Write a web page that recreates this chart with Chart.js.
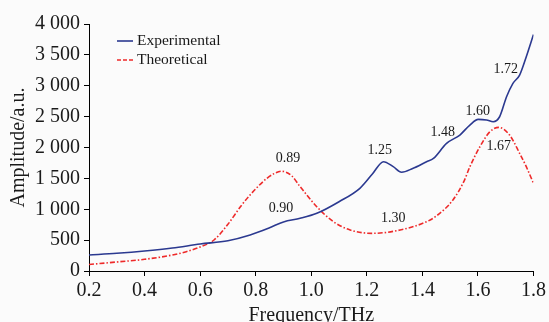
<!DOCTYPE html>
<html>
<head>
<meta charset="utf-8">
<script src="https://cdn.jsdelivr.net/npm/chart.js@4"></script>
<style>
    html, body { margin: 0; padding: 0; background: #fbfbfb; }
    #wrap { width: 549px; height: 322px; }
</style>
</head>
<body>
<div id="wrap"><canvas id="myChart"></canvas></div>
<script>
// frequency (THz) / amplitude (a.u.)
const freqExp = [0.2, 0.3, 0.4, 0.5, 0.6, 0.7, 0.78, 0.85, 0.9, 0.96, 1.02, 1.1, 1.175, 1.22, 1.26, 1.295, 1.325, 1.365, 1.415, 1.44, 1.487, 1.535, 1.571, 1.601, 1.631, 1.655, 1.678, 1.703, 1.726, 1.75, 1.774, 1.8];
const ampExp = [259, 287, 324, 372, 437, 490, 583, 700, 795, 853, 934, 1122, 1339, 1570, 1770, 1690, 1600, 1660, 1770, 1824, 2067, 2202, 2364, 2456, 2445, 2417, 2498, 2822, 3039, 3173, 3470, 3830];

const freqTheo = [0.2, 0.3, 0.4, 0.5, 0.55, 0.6, 0.65, 0.7, 0.75, 0.8, 0.84, 0.87, 0.893, 0.93, 0.96, 1.02, 1.08, 1.14, 1.22, 1.32, 1.415, 1.45, 1.51, 1.55, 1.571, 1.607, 1.643, 1.675, 1.714, 1.75, 1.774, 1.8];
const ampTheo = [105, 146, 189, 259, 313, 389, 502, 756, 1070, 1330, 1500, 1585, 1615, 1540, 1365, 1041, 798, 664, 610, 664, 798, 890, 1150, 1457, 1689, 2012, 2255, 2326, 2202, 1906, 1689, 1420];

const xTickLabels = ['0.2', '0.4', '0.6', '0.8', '1.0', '1.2', '1.4', '1.6', '1.8'];
const yTickLabels = ['0', '500', '1 000', '1 500', '2 000', '2 500', '3 000', '3 500', '4 000'];

// peak labels, placed in data units
const peakText = ['0.89', '0.90', '1.25', '1.30', '1.48', '1.60', '1.67', '1.72'];
const peakX = [0.916, 0.891, 1.247, 1.295, 1.473, 1.599, 1.675, 1.700];
const peakY = [1829, 1020, 1959, 847, 2239, 2590, 2012, 3265];

const serif = '"Liberation Serif", "Times New Roman", serif';
const blue = '#2b3990';
const red = '#ee2a2a';

const toPoints = (xs, ys) => xs.map((x, i) => ({x: x, y: ys[i]}));

const bgPlugin = {
    id: 'bg',
    beforeDraw(chart) {
        const ctx = chart.ctx;
        ctx.save();
        ctx.fillStyle = '#fbfbfb';
        ctx.fillRect(0, 0, chart.width, chart.height);
        ctx.restore();
    }
};

const notesPlugin = {
    id: 'notes',
    afterDraw(chart) {
        const ctx = chart.ctx;
        const xs = chart.scales.x, ys = chart.scales.y;
        const area = chart.chartArea;
        ctx.save();
        // peak labels
        ctx.font = '14px ' + serif;
        ctx.fillStyle = '#1a1a1a';
        ctx.textAlign = 'center';
        ctx.textBaseline = 'middle';
        peakText.forEach((t, i) => {
            ctx.fillText(t, xs.getPixelForValue(peakX[i]), ys.getPixelForValue(peakY[i]));
        });
        // legend
        const lx = area.left + 28, ly = area.top + 17;
        ctx.lineWidth = 1.6;
        ctx.strokeStyle = blue;
        ctx.beginPath(); ctx.moveTo(lx, ly); ctx.lineTo(lx + 16, ly); ctx.stroke();
        ctx.strokeStyle = red;
        ctx.setLineDash([4, 2]);
        ctx.beginPath(); ctx.moveTo(lx, ly + 19); ctx.lineTo(lx + 16, ly + 19); ctx.stroke();
        ctx.setLineDash([]);
        ctx.font = '15.5px ' + serif;
        ctx.textAlign = 'left';
        ctx.fillText('Experimental', lx + 20, ly);
        ctx.fillText('Theoretical', lx + 20, ly + 19);
        ctx.restore();
    }
};

new Chart(document.getElementById('myChart'), {
    type: 'line',
    data: {
        datasets: [{
            label: 'Experimental',
            data: toPoints(freqExp, ampExp),
            borderColor: blue,
            borderWidth: 1.6,
            pointRadius: 0,
            cubicInterpolationMode: 'monotone',
            fill: false
        }, {
            label: 'Theoretical',
            data: toPoints(freqTheo, ampTheo),
            borderColor: red,
            borderWidth: 1.6,
            borderDash: [5, 2, 1.5, 2],
            pointRadius: 0,
            cubicInterpolationMode: 'monotone',
            fill: false
        }]
    },
    plugins: [bgPlugin, notesPlugin],
    options: {
        responsive: true,
        maintainAspectRatio: false,
        animation: false,
        layout: {
            padding: {left: 0, right: 15, top: 24, bottom: 0}
        },
        plugins: {
            legend: { display: false },
            tooltip: { enabled: false }
        },
        scales: {
            x: {
                type: 'linear',
                min: 0.2,
                max: 1.8,
                afterFit(scale) { scale.height = 51; },
                afterBuildTicks(scale) {
                    scale.ticks = xTickLabels.map(v => ({value: parseFloat(v)}));
                },
                ticks: {
                    callback: (v, i) => xTickLabels[i],
                    font: { family: serif, size: 20 },
                    color: '#1a1a1a',
                    padding: 3,
                    maxRotation: 0,
                    autoSkip: false
                },
                grid: {
                    drawOnChartArea: false,
                    drawTicks: true,
                    tickLength: 5,
                    color: '#000'
                },
                border: { display: true, color: '#000', width: 1 },
                title: {
                    display: true,
                    text: 'Frequency/THz',
                    font: { family: serif, size: 20, lineHeight: 1 },
                    color: '#1a1a1a',
                    padding: { top: 0, bottom: -4 }
                }
            },
            y: {
                min: 0,
                max: 4000,
                afterFit(scale) { scale.width = 89; },
                afterBuildTicks(scale) {
                    scale.ticks = yTickLabels.map((t, i) => ({value: i * 500}));
                },
                ticks: {
                    callback: (v, i) => yTickLabels[i],
                    font: { family: serif, size: 20 },
                    color: '#1a1a1a',
                    padding: 4
                },
                grid: {
                    drawOnChartArea: false,
                    drawTicks: true,
                    tickLength: 5,
                    color: '#000'
                },
                border: { display: true, color: '#000', width: 1 },
                title: {
                    display: true,
                    text: 'Amplitude/a.u.',
                    font: { family: serif, size: 20, lineHeight: 1 },
                    color: '#1a1a1a',
                    padding: { top: 9, bottom: 0 }
                }
            }
        }
    }
});
</script>
</body>
</html>
